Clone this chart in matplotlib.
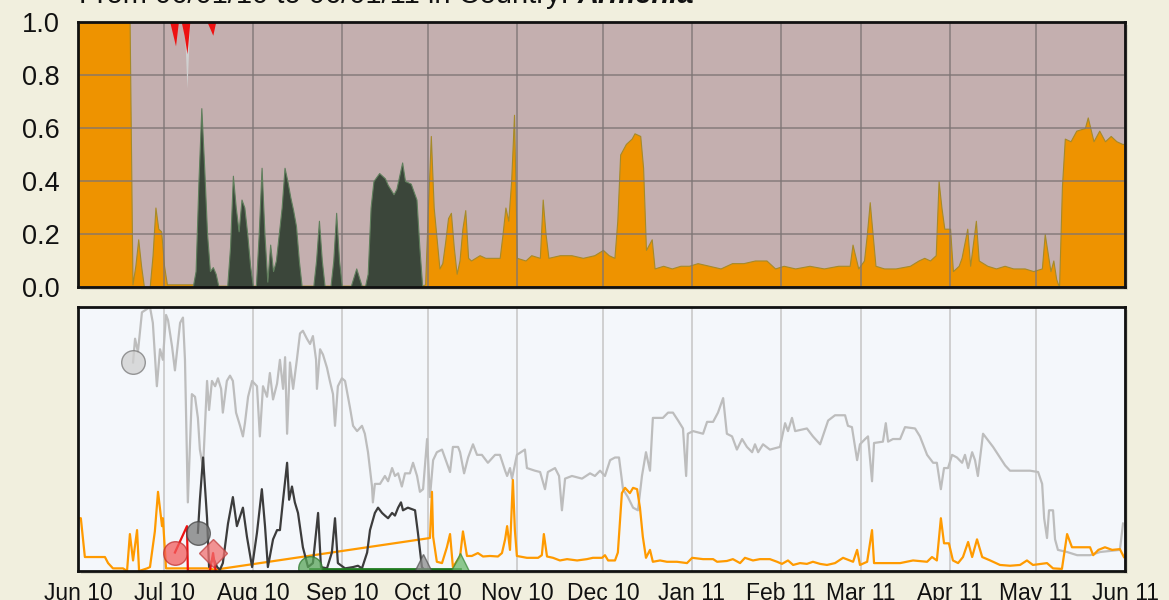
import numpy as np
import matplotlib as mpl
mpl.use('Agg')
import matplotlib.pyplot as plt
import matplotlib.dates as mdates
from matplotlib.patches import Rectangle

plt.rcParams['font.family'] = ['Liberation Sans', 'DejaVu Sans']

# ---- data: (days since 2010-06-01, value) ----
start = '2010-06-01'
end = '2011-06-01'

# top panel: share of traffic (fractions)
top_orange = [(0, 1.0), (18, 1.0), (19, 0.01), (20, 0.08), (21, 0.18), (22, 0.08), (23, 0.0), (25, 0.0),
              (26, 0.12), (27, 0.30), (28, 0.22), (29, 0.21), (30, 0.08), (31, 0.01), (40, 0.01), (45, 0.005),
              (119, 0.005), (120, 0.005), (121, 0.01), (122, 0.30), (123, 0.57), (124, 0.30), (126, 0.07),
              (127, 0.09), (128, 0.17), (129, 0.26), (130, 0.28), (131, 0.15), (132, 0.05), (133, 0.10),
              (134, 0.22), (135, 0.29), (136, 0.11), (137, 0.10), (140, 0.12), (142, 0.11), (145, 0.11),
              (147, 0.11), (148, 0.2), (149, 0.30), (150, 0.25), (151, 0.40), (152, 0.65), (153, 0.11),
              (156, 0.10), (158, 0.12), (161, 0.11), (162, 0.33), (163, 0.2), (164, 0.11), (168, 0.12),
              (172, 0.12), (176, 0.11), (180, 0.12), (183, 0.14), (185, 0.12), (187, 0.11), (188, 0.25),
              (189, 0.50), (191, 0.54), (193, 0.56), (194, 0.58), (196, 0.57), (197, 0.45), (198, 0.14),
              (200, 0.18), (201, 0.07), (204, 0.08), (207, 0.07), (210, 0.08), (213, 0.08), (216, 0.09),
              (220, 0.08), (224, 0.07), (228, 0.09), (232, 0.09), (236, 0.10), (240, 0.10), (243, 0.07),
              (246, 0.08), (250, 0.07), (255, 0.08), (260, 0.07), (265, 0.08), (269, 0.08), (270, 0.16),
              (272, 0.07), (274, 0.10), (275, 0.2), (276, 0.32), (277, 0.2), (278, 0.08), (281, 0.07),
              (285, 0.07), (290, 0.08), (293, 0.10), (295, 0.11), (297, 0.10), (299, 0.12), (300, 0.40),
              (301, 0.3), (302, 0.22), (304, 0.22), (305, 0.06), (307, 0.08), (308, 0.11), (310, 0.22),
              (311, 0.08), (313, 0.25), (314, 0.10), (317, 0.08), (320, 0.07), (323, 0.08), (326, 0.07),
              (330, 0.07), (333, 0.06), (336, 0.07), (337, 0.20), (339, 0.06), (340, 0.10), (341, 0.03),
              (342, 0.0), (343, 0.38), (344, 0.56), (346, 0.55), (348, 0.59), (351, 0.60), (352, 0.64),
              (354, 0.55), (356, 0.59), (358, 0.55), (360, 0.57), (362, 0.55), (364, 0.54), (365, 0.54)]

top_green = [(40, 0), (41, 0.06), (42, 0.4), (43, 0.675), (44, 0.45), (45, 0.2), (46, 0.06), (47, 0.075),
             (48, 0.05), (49, 0), (52, 0), (53, 0.15), (54, 0.42), (55, 0.3), (56, 0.21), (57, 0.33), (58, 0.3),
             (59, 0.2), (60, 0.08), (61, 0), (62, 0), (63, 0.2), (64, 0.45), (65, 0.2), (66, 0.02), (67, 0.16),
             (68, 0.06), (69, 0.1), (70, 0.2), (71, 0.3), (72, 0.45), (73, 0.4), (74, 0.34), (75, 0.29),
             (76, 0.23), (77, 0.1), (78, 0), (82, 0), (83, 0.1), (84, 0.25), (85, 0.1), (86, 0), (88, 0),
             (89, 0.1), (90, 0.28), (91, 0.1), (92, 0), (95, 0), (97, 0.07), (99, 0), (100, 0), (101, 0.05),
             (102, 0.30), (103, 0.40), (105, 0.43), (107, 0.41), (108, 0.385), (110, 0.35), (111, 0.37),
             (113, 0.47), (114, 0.40), (116, 0.39), (118, 0.33), (119, 0.15), (120, 0.0)]

# spikes hanging from the top edge (depth below 1.0)
top_red = [(32, 0), (34, 0.09), (35, 0), (36, 0), (37, 0.05), (38, 0.12), (39, 0), (45, 0), (47, 0.05), (48, 0)]
top_grey = [(37, 0), (38, 0.25), (39, 0)]

# bottom panel: volumes (normalised to panel height)
grey_line = [(19.2, 0.79), (19.9, 0.88), (20.9, 0.83), (22.3, 0.98), (23.7, 0.99), (25.1, 1.0), (26.1, 0.94),
             (27.5, 0.70), (28.6, 0.84), (29.6, 0.80), (30.7, 0.97), (31.4, 0.95), (32.8, 0.85), (33.8, 0.76),
             (35.6, 0.94), (36.6, 0.96), (37.3, 0.80), (38.3, 0.26), (39.7, 0.67), (40.8, 0.66), (41.8, 0.58),
             (42.5, 0.46), (43.6, 0.39), (45.0, 0.72), (45.7, 0.61), (46.7, 0.72), (47.8, 0.70), (48.8, 0.73),
             (49.9, 0.69), (50.5, 0.60), (51.9, 0.72), (53.0, 0.74), (54.0, 0.72), (55.1, 0.60), (56.5, 0.55),
             (57.5, 0.51), (58.2, 0.56), (59.3, 0.66), (60.7, 0.72), (62.4, 0.70), (63.4, 0.51), (64.5, 0.70),
             (65.9, 0.66), (66.9, 0.75), (68.0, 0.65), (69.4, 0.71), (70.4, 0.80), (71.5, 0.69), (72.2, 0.81),
             (72.9, 0.52), (73.9, 0.79), (75.0, 0.69), (76.3, 0.80), (77.4, 0.90), (78.4, 0.91), (79.8, 0.88),
             (80.9, 0.86), (81.9, 0.89), (83.0, 0.80), (83.3, 0.69), (84.4, 0.84), (85.4, 0.82), (86.8, 0.77),
             (87.8, 0.72), (88.9, 0.67), (89.6, 0.55), (90.6, 0.70), (92.0, 0.73), (93.1, 0.72), (94.8, 0.62),
             (95.9, 0.55), (97.3, 0.53), (99.0, 0.55), (100.0, 0.52), (101.1, 0.45), (102.5, 0.32),
             (102.8, 0.26), (103.5, 0.33), (105.3, 0.33), (107.0, 0.36), (108.1, 0.34), (109.5, 0.39),
             (110.5, 0.36), (111.6, 0.37), (112.9, 0.32), (114.0, 0.37), (115.7, 0.37), (116.8, 0.41),
             (118.2, 0.36), (119.2, 0.30), (120.3, 0.31), (121.7, 0.50), (122.7, 0.28), (123.8, 0.42),
             (125.1, 0.45), (126.9, 0.46), (127.9, 0.43), (129.7, 0.375), (130.7, 0.47), (132.5, 0.47),
             (133.2, 0.45), (134.6, 0.37), (136.0, 0.43), (137.7, 0.48), (139.1, 0.44), (140.8, 0.44),
             (142.9, 0.41), (145.4, 0.44), (147.1, 0.44), (148.9, 0.38), (149.6, 0.36), (150.6, 0.39),
             (151.3, 0.35), (153.0, 0.44), (155.8, 0.46), (156.5, 0.39), (159.3, 0.38), (161.1, 0.375),
             (162.8, 0.31), (163.8, 0.375), (166.3, 0.39), (167.7, 0.36), (168.7, 0.23), (169.8, 0.35),
             (172.2, 0.36), (175.7, 0.35), (178.5, 0.37), (180.2, 0.36), (182.0, 0.38), (183.7, 0.36),
             (185.5, 0.42), (187.2, 0.43), (188.6, 0.43), (190.0, 0.31), (191.7, 0.28), (193.5, 0.24),
             (195.2, 0.23), (196.6, 0.36), (198.0, 0.45), (199.4, 0.38), (200.4, 0.58), (203.9, 0.58),
             (205.7, 0.60), (207.4, 0.60), (209.2, 0.57), (210.9, 0.54), (212.0, 0.36), (212.6, 0.52),
             (214.4, 0.53), (217.9, 0.52), (219.3, 0.565), (221.4, 0.565), (223.1, 0.60), (224.9, 0.655),
             (226.2, 0.52), (228.0, 0.51), (229.7, 0.46), (231.5, 0.50), (233.2, 0.47), (235.0, 0.45),
             (236.0, 0.48), (237.1, 0.45), (238.8, 0.48), (241.2, 0.46), (244.7, 0.47), (246.5, 0.56),
             (247.5, 0.53), (248.9, 0.58), (250.0, 0.53), (254.1, 0.54), (256.2, 0.51), (258.7, 0.48),
             (261.5, 0.57), (263.9, 0.59), (267.4, 0.59), (268.4, 0.55), (269.8, 0.545), (271.6, 0.42),
             (272.6, 0.48), (274.4, 0.50), (275.4, 0.51), (276.8, 0.34), (277.5, 0.485), (280.6, 0.49),
             (281.6, 0.56), (282.4, 0.49), (284.1, 0.50), (286.6, 0.50), (288.3, 0.545), (291.8, 0.54),
             (293.5, 0.51), (296.0, 0.44), (298.1, 0.41), (299.4, 0.41), (300.8, 0.31), (301.9, 0.39),
             (303.3, 0.39), (304.7, 0.44), (306.4, 0.43), (308.2, 0.41), (309.2, 0.44), (310.3, 0.39),
             (311.7, 0.45), (312.7, 0.42), (313.7, 0.36), (315.5, 0.52), (316.9, 0.50), (319.0, 0.47),
             (321.4, 0.43), (323.2, 0.40), (324.9, 0.38), (331.9, 0.38), (334.7, 0.375), (336.1, 0.33),
             (336.8, 0.20), (337.8, 0.125), (338.5, 0.23), (339.9, 0.23), (340.6, 0.12), (341.6, 0.08),
             (344.8, 0.072), (348.3, 0.06), (352.8, 0.06), (356.3, 0.072), (363.2, 0.08), (364.3, 0.18)]

orange_line = [(0.0, 0.20), (1.0, 0.20), (2.4, 0.053), (7.7, 0.053), (9.4, 0.053), (10.5, 0.03), (12.2, 0.01),
               (15.7, 0.01), (17.1, 0.0), (18.1, 0.14), (19.2, 0.04), (20.6, 0.155), (21.3, 0.0), (24.1, 0.01),
               (25.1, 0.015), (26.8, 0.15), (27.9, 0.30), (29.3, 0.17), (29.6, 0.20), (30.7, 0.01), (45.0, 0.01),
               (47.8, 0.005), (122.7, 0.125), (123.4, 0.30), (123.8, 0.13), (125.1, 0.035), (126.9, 0.03),
               (128.6, 0.09), (129.7, 0.14), (130.7, 0.015), (133.2, 0.055), (134.2, 0.15), (135.6, 0.057),
               (137.3, 0.057), (139.4, 0.068), (141.2, 0.055), (143.6, 0.057), (146.4, 0.055), (147.8, 0.068),
               (148.9, 0.12), (149.6, 0.17), (150.6, 0.08), (151.6, 0.345), (152.3, 0.155), (153.0, 0.057),
               (156.5, 0.05), (160.4, 0.05), (161.7, 0.06), (162.4, 0.14), (163.5, 0.055), (165.6, 0.05),
               (168.0, 0.04), (170.5, 0.045), (174.0, 0.04), (177.4, 0.045), (179.5, 0.05), (182.7, 0.05),
               (183.7, 0.06), (184.8, 0.04), (187.2, 0.04), (188.2, 0.07), (189.6, 0.295), (190.7, 0.315),
               (192.4, 0.295), (193.5, 0.315), (194.9, 0.31), (195.9, 0.24), (196.9, 0.13), (198.0, 0.05),
               (199.4, 0.08), (200.4, 0.035), (202.9, 0.04), (205.3, 0.035), (208.8, 0.035), (212.3, 0.03),
               (214.1, 0.05), (217.9, 0.045), (221.4, 0.045), (222.8, 0.035), (226.2, 0.038), (228.3, 0.045),
               (230.8, 0.03), (232.5, 0.05), (235.3, 0.04), (237.7, 0.045), (241.2, 0.045), (243.7, 0.035),
               (245.4, 0.027), (247.5, 0.04), (249.3, 0.023), (251.7, 0.03), (254.1, 0.027), (256.2, 0.035),
               (258.7, 0.027), (261.1, 0.023), (263.9, 0.03), (266.7, 0.05), (270.2, 0.035), (271.6, 0.08),
               (272.6, 0.023), (275.1, 0.035), (276.8, 0.155), (277.5, 0.03), (286.6, 0.03), (291.1, 0.04),
               (296.0, 0.035), (297.7, 0.053), (299.4, 0.04), (300.8, 0.20), (301.9, 0.105), (303.6, 0.105),
               (305.0, 0.04), (306.8, 0.03), (308.5, 0.053), (310.3, 0.11), (311.7, 0.053), (313.4, 0.12),
               (315.2, 0.053), (318.0, 0.04), (321.4, 0.023), (324.9, 0.02), (328.4, 0.023), (330.8, 0.04),
               (332.9, 0.023), (337.8, 0.03), (339.9, 0.01), (343.0, 0.008), (344.8, 0.14), (346.5, 0.09),
               (348.3, 0.09), (351.8, 0.09), (352.8, 0.09), (353.9, 0.06), (355.7, 0.08), (358.0, 0.09),
               (360.5, 0.08), (363.2, 0.083), (364.6, 0.053)]

dark_line = [(41.8, 0.145), (42.5, 0.27), (43.6, 0.43), (45.0, 0.20), (45.7, 0.015), (47.1, 0.05), (48.5, 0.015),
             (49.5, 0.005), (50.5, 0.03), (52.3, 0.18), (54.0, 0.28), (55.4, 0.17), (57.5, 0.24), (58.9, 0.13),
             (60.7, 0.015), (62.4, 0.145), (64.1, 0.31), (65.2, 0.17), (66.2, 0.015), (68.0, 0.12),
             (69.4, 0.155), (70.4, 0.155), (71.5, 0.27), (72.9, 0.41), (73.6, 0.27), (74.6, 0.32), (75.6, 0.26),
             (76.7, 0.22), (78.4, 0.09), (80.2, 0.015), (81.9, 0.03), (83.7, 0.22), (84.7, 0.015), (86.8, 0.01),
             (88.5, 0.07), (89.6, 0.20), (90.6, 0.03), (93.1, 0.01), (95.9, 0.015), (97.6, 0.02), (99.0, 0.01),
             (100.8, 0.07), (101.8, 0.155), (103.5, 0.22), (104.6, 0.24), (106.0, 0.22), (107.0, 0.21),
             (108.1, 0.20), (109.5, 0.22), (110.5, 0.21), (111.6, 0.24), (112.6, 0.26), (113.3, 0.23),
             (115.0, 0.24), (117.5, 0.23), (118.5, 0.145), (119.9, 0.015), (121.0, 0.0)]

red_line = [(33.8, 0.07), (38.0, 0.17), (38.3, 0.0), (46.0, 0.0), (47.1, 0.068), (48.0, 0.0)]
green_line = [(80.9, 0.008), (133.2, 0.008)]

# (day, value, marker, face, edge) where each series first shows up
start_marks = [
    (19.2, 0.79, 'o', '#cfcfcf', '#777777'),
    (33.8, 0.07, 'o', '#f25c5c', '#c03030'),
    (41.8, 0.145, 'o', '#7a7a7a', '#444444'),
    (47.1, 0.068, 'D', '#f07070', '#c04040'),
    (80.9, 0.012, 'o', '#5aa55a', '#2f7a2f'),
    (120.3, 0.025, '^', '#8c8c8c', '#555555'),
    (133.2, 0.03, '^', '#6ab86a', '#3a8a3a'),
]

# ---- plotting ----
t0 = mdates.datestr2num(start)
t1 = mdates.datestr2num(end)


def xy(pairs):
    d, v = zip(*pairs)
    return t0 + np.array(d, dtype=float), np.array(v, dtype=float)


fig = plt.figure(figsize=(11.69, 6.0), dpi=100, facecolor='#f1efde')
pos1 = [0.0667, 0.5217, 0.8957, 0.4416]
pos2 = [0.0667, 0.0483, 0.8957, 0.44]
# soft drop shadow behind each panel
for p in (pos1, pos2):
    fig.add_artist(Rectangle((p[0] + 3 / 1169, p[1] - 3 / 600), p[2], p[3], transform=fig.transFigure,
                             facecolor='#d9d7c6', edgecolor='none', zorder=-5))
ax1 = fig.add_axes(pos1)
ax2 = fig.add_axes(pos2)

# top panel
ax1.set_facecolor('#c4afaf')
x, y = xy(top_orange)
ax1.fill_between(x, 0, y, color='#ee9300', edgecolor='#a58a2a', lw=0.8, zorder=2)
x, y = xy(top_green)
ax1.fill_between(x, 0, y, color='#3b463a', edgecolor='#5f7f5c', lw=0.8, zorder=3)
x, y = xy(top_grey)
ax1.fill_between(x, 1 - y, 1, color='#d0d0d0', lw=0, zorder=3)
x, y = xy(top_red)
ax1.fill_between(x, 1 - y, 1, color='#ee1111', lw=0, zorder=4)
ax1.set_xlim(t0, t1)
ax1.set_ylim(0, 1)
ax1.set_yticks(np.arange(0, 1.01, 0.2))
ax1.yaxis.set_major_formatter(mpl.ticker.FormatStrFormatter('%.1f'))
ax1.xaxis.set_major_locator(mdates.MonthLocator())
ax1.set_xticklabels([])
ax1.grid(True, color='#7d7474', lw=1.2, alpha=0.8, zorder=1)
ax1.set_axisbelow(False)
ax1.tick_params(length=0, labelsize=19.5, pad=13, colors='#111111')

# bottom panel
ax2.set_facecolor('#f4f7fb')
ax2.plot(*xy(grey_line), color='#bdbdbd', lw=1.6, zorder=2)
ax2.plot(*xy(orange_line), color='#ff9a00', lw=1.6, zorder=3)
ax2.plot(*xy(dark_line), color='#3c3c3c', lw=1.6, zorder=4)
ax2.plot(*xy(red_line), color='#ee1111', lw=1.6, zorder=4)
ax2.plot(*xy(green_line), color='#1f7a1f', lw=2.0, zorder=4)
for d, v, m, fc, ec in start_marks:
    ax2.plot([t0 + d], [v], marker=m, ms=17 if m == 'o' else 14, mfc=fc, mec=ec, mew=1.0,
             alpha=0.75, zorder=5)
ax2.set_xlim(t0, t1)
ax2.set_ylim(0, 1)
ax2.set_yticks([])
ax2.xaxis.set_major_locator(mdates.MonthLocator())
ax2.xaxis.set_major_formatter(mdates.DateFormatter('%b %y'))
ax2.grid(True, axis='x', color='#c9c9c9', lw=1.2, zorder=1)
ax2.tick_params(axis='x', length=0, labelsize=16.5, pad=8, colors='#111111')

for ax in (ax1, ax2):
    for s in ax.spines.values():
        s.set_linewidth(2)
        s.set_color('#111111')
        s.set_zorder(6)

# title, mostly cut off at the top edge as in the source
ty = 1 - 3 / 600
tt = fig.text(0.068, ty, 'From 06/01/10 to 06/01/11 in Country: ', fontsize=21, va='baseline', color='#111111')
fig.canvas.draw()
bb = tt.get_window_extent()
fig.text(bb.x1 / fig.bbox.width, ty, 'Armenia', fontsize=21, va='baseline', fontweight='bold',
         fontstyle='italic', color='#111111')

fig.savefig('out.png', dpi=100, facecolor=fig.get_facecolor())
